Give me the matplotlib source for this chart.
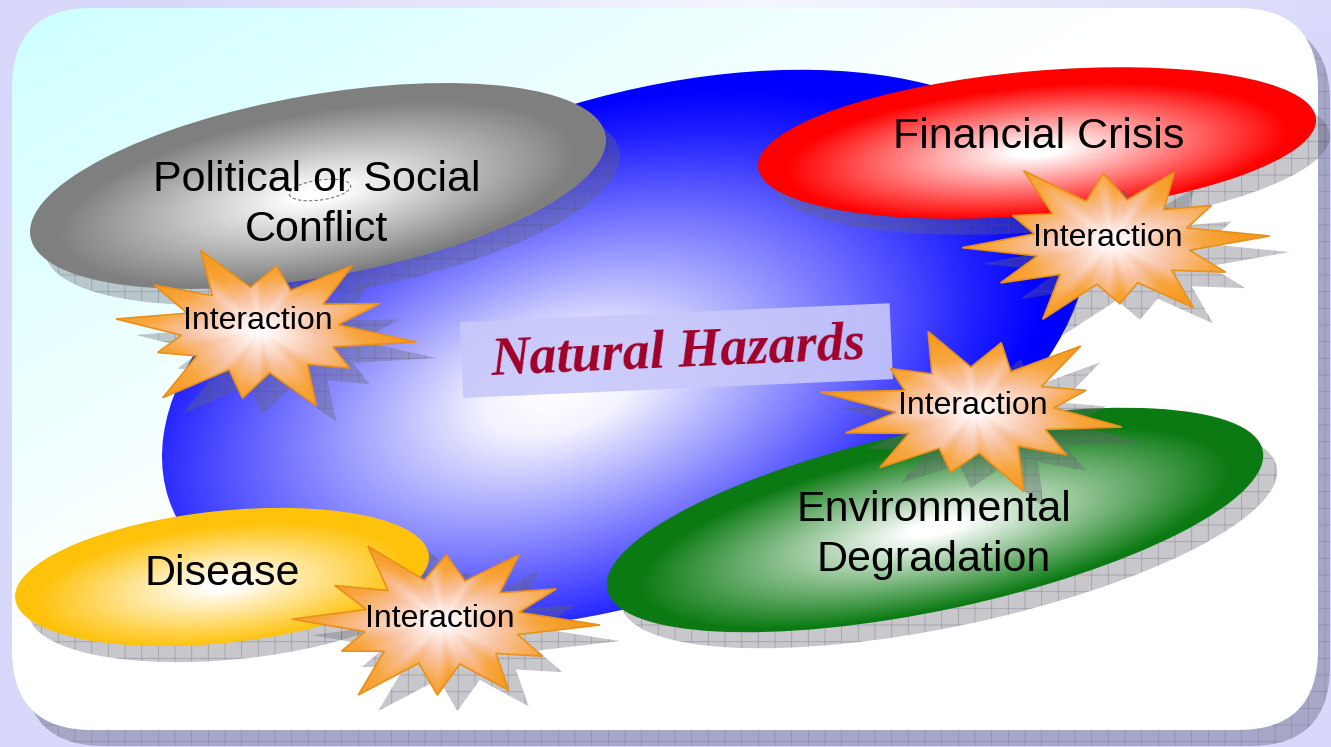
import numpy as np
import matplotlib
matplotlib.use("Agg")
import matplotlib.pyplot as plt
import matplotlib.patches as patches
from matplotlib.colors import to_rgb

plt.rcParams['hatch.linewidth'] = 0.6

W, H = 1331, 747

# text content
hazard_label = "Natural Hazards"
factor_labels = ["Political or Social\nConflict", "Financial Crisis",
                 "Environmental\nDegradation", "Disease"]
burst_label = "Interaction"

# ellipse layout (pixel coords, y down): centre, width, height, angle
factor_centers = [(318, 186), (1037, 143), (935, 520), (222, 577)]
factor_sizes = [(584, 182), (560, 144), (670, 180), (416, 132)]
factor_angles = [-10, -5, -12, -6]
factor_colors = ['#7f7f7f', '#ff0000', '#0b7a12', '#ffc20a']
factor_text_pos = [(317, 205), (1039, 137), (934, 535), (222, 574)]

# starbursts
burst_centers = [(260, 330), (1112, 242), (975, 410), (442, 622)]
burst_radii = [
    [1.0, 0.72, 0.95, 0.8, 1.0, 0.7, 0.92, 0.85, 1.0, 0.75, 0.95, 0.82],
    [1.0, 0.8, 0.92, 0.72, 1.0, 0.85, 0.95, 0.7, 1.0, 0.8, 0.9, 0.76],
    [0.95, 0.78, 1.0, 0.74, 0.9, 0.86, 1.0, 0.72, 0.96, 0.8, 1.0, 0.74],
    [1.0, 0.75, 0.9, 0.85, 1.0, 0.72, 0.95, 0.8, 1.0, 0.78, 0.92, 0.82],
]
burst_rot = [8, -4, 12, 2]
burst_text_pos = [(258, 321), (1108, 238), (973, 406), (440, 619)]

fig = plt.figure(figsize=(W / 100, H / 100), dpi=100)
fig.patch.set_facecolor('#d8d8fa')
ax = fig.add_axes([0, 0, 1, 1])
ax.set_xlim(0, W)
ax.set_ylim(H, 0)
ax.axis('off')


def grad_image(x0, x1, y0, y1, func, stops, colors, z, clip):
    ys, xs = np.mgrid[y0:y1, x0:x1] + 0.5
    t = np.clip(func(xs, ys), 0, 1)
    cols = np.array([to_rgb(c) for c in colors])
    img = np.dstack([np.interp(t, stops, cols[:, k]) for k in range(3)])
    im = ax.imshow(img, extent=(x0, x1, y1, y0), zorder=z,
                   interpolation='bilinear', aspect='auto')
    im.set_clip_path(clip)
    return im


def ell_dist(cx, cy, a, b, ang):
    th = np.deg2rad(ang)

    def f(xs, ys):
        dx, dy = xs - cx, ys - cy
        u = dx * np.cos(th) + dy * np.sin(th)
        v = -dx * np.sin(th) + dy * np.cos(th)
        return np.sqrt((u / a) ** 2 + (v / b) ** 2)
    return f


def shadow(patch_cls, *args, z=1, fc=(0.4, 0.4, 0.45, 0.36),
           ec=(0.35, 0.35, 0.4, 0.35), **kw):
    p = patch_cls(*args, facecolor=fc, edgecolor=ec, hatch='+', lw=0,
                  zorder=z, **kw)
    ax.add_patch(p)
    return p


# light strip across the top of the background
bg = patches.Rectangle((0, 0), W, H, facecolor='none', lw=0, zorder=0)
ax.add_patch(bg)
grad_image(0, W, 0, 30, lambda x, y: np.abs(x - 760) / 600,
           [0, 1], ['#f6f6ff', '#d8d8fa'], 0, bg)

# rounded panel with shadow
shadow(patches.FancyBboxPatch, (24, 22), 1306, 724,
       boxstyle='round,pad=0,rounding_size=80', z=1,
       fc='#a6a6c6', ec='#9090b0')
panel = patches.FancyBboxPatch((12, 8), 1306, 722,
                               boxstyle='round,pad=0,rounding_size=80',
                               facecolor='none', lw=0, zorder=2)
ax.add_patch(panel)
grad_image(0, W, 0, H, lambda x, y: x / 1150 + y / 650,
           [0, 1], ['#ccffff', '#ffffff'], 2, panel)

# big blue ellipse
blue = patches.Ellipse((625, 350), 960, 500, angle=-18,
                       facecolor='none', lw=0, zorder=3)
ax.add_patch(blue)
grad_image(140, 1110, 60, 640, ell_dist(560, 390, 500, 270, -18),
           [0, 0.15, 0.86, 1], ['#ffffff', '#f4f4ff', '#2020ff', '#0000ff'],
           3, blue)

# Natural Hazards label box
box = patches.Rectangle((460, 322), 430, 76, angle=-2.5,
                        facecolor='#c8c8fa', alpha=0.9, lw=0, zorder=4)
ax.add_patch(box)
ax.text(678, 353, hazard_label, ha='center', va='center', rotation=2.5,
        fontsize=39, style='italic', weight='bold', family='Liberation Serif',
        color='#a0002a', zorder=5)

# factor ellipses
for i in range(len(factor_labels)):
    cx, cy = factor_centers[i]
    w, h = factor_sizes[i]
    ang = factor_angles[i]
    z = 6 + 2 * i
    shadow(patches.Ellipse, (cx + 14, cy + 16), w, h, angle=ang, z=z)
    e = patches.Ellipse((cx, cy), w, h, angle=ang, facecolor='none',
                        lw=0, zorder=z + 1)
    ax.add_patch(e)
    grad_image(int(cx - w / 2 - 5), int(cx + w / 2 + 5),
               int(cy - w / 4 - 5), int(cy + w / 4 + 5),
               ell_dist(cx, cy + 8, w / 2, h / 2, ang),
               [0, 0.08, 0.9, 1], ['#ffffff', '#ffffff', factor_colors[i],
                                   factor_colors[i]], z + 1, e)
    tx, ty = factor_text_pos[i]
    ax.text(tx, ty, factor_labels[i], ha='center', va='center',
            fontsize=31, family='Liberation Sans', linespacing=1.32,
            color='black', zorder=30)

# small dashed artefact behind "or"
ax.add_patch(patches.Ellipse((320, 190), 62, 20, angle=-8, fill=False,
                             ls=(0, (3, 2)), lw=0.8, edgecolor='#777777',
                             zorder=20))


def star_points(cx, cy, rx, ry, radii, rot, inner=0.5):
    n = len(radii)
    pts = []
    for k, r in enumerate(radii):
        a = np.deg2rad(rot + 360 * k / n)
        pts.append((cx + rx * r * np.cos(a), cy + ry * r * np.sin(a)))
        a2 = np.deg2rad(rot + 360 * (k + 0.5) / n)
        pts.append((cx + rx * inner * np.cos(a2), cy + ry * inner * np.sin(a2)))
    return np.array(pts)


def burst_dist(cx, cy):
    base = ell_dist(cx, cy, 150, 80, 0)

    def f(xs, ys):
        ang = np.arctan2(ys - cy, xs - cx)
        streak = 0.12 * np.cos(9 * ang) + 0.06 * np.cos(17 * ang + 1.0)
        return base(xs, ys) * (1 + streak)
    return f


for i, (cx, cy) in enumerate(burst_centers):
    pts = star_points(cx, cy, 158, 86, burst_radii[i], burst_rot[i])
    shadow(patches.Polygon, pts + np.array([20, 16]), closed=True, z=21)
    st = patches.Polygon(pts, closed=True, facecolor='none',
                         edgecolor='#e8901a', lw=1.2, zorder=23)
    ax.add_patch(st)
    clip = patches.Polygon(pts, closed=True, facecolor='none', lw=0,
                           zorder=22)
    ax.add_patch(clip)
    grad_image(int(cx - 170), int(cx + 170), int(cy - 95), int(cy + 95),
               burst_dist(cx, cy),
               [0, 0.1, 0.4, 0.7, 1],
               ['#ffffff', '#fff4f2', '#f9c4a4', '#f8a640', '#f79a20'],
               22, clip)
    tx, ty = burst_text_pos[i]
    ax.text(tx, ty, burst_label, ha='center', va='center', fontsize=23,
            family='Liberation Sans', color='black', zorder=31)

plt.savefig('out.png', dpi=100)
